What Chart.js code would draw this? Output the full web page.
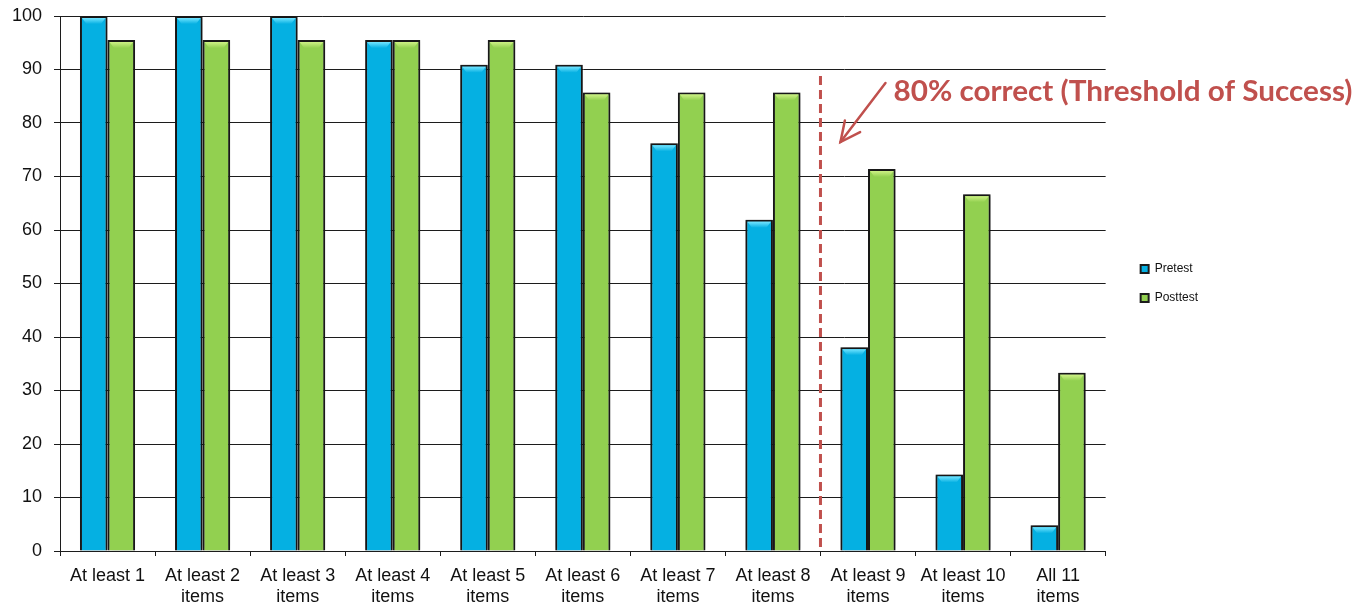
<!DOCTYPE html>
<html>
<head>
<meta charset="utf-8">
<title>Pretest vs Posttest</title>
<script src="https://cdn.jsdelivr.net/npm/chart.js@4.4.1/dist/chart.umd.min.js"></script>
<style>
  html, body { margin: 0; padding: 0; background: #fff; }
  #wrap { width: 1366px; height: 607px; position: relative; }
</style>
</head>
<body>
<div id="wrap"><canvas id="c" width="1366" height="607"></canvas></div>
<script>
// Share of students answering at least N of 11 items correctly (%)
const categories = [
  ['At least 1'],
  ['At least 2', 'items'],
  ['At least 3', 'items'],
  ['At least 4', 'items'],
  ['At least 5', 'items'],
  ['At least 6', 'items'],
  ['At least 7', 'items'],
  ['At least 8', 'items'],
  ['At least 9', 'items'],
  ['At least 10', 'items'],
  ['All 11', 'items']
];
const pretest  = [100, 100, 100, 95.5, 90.9, 90.9, 76.2, 61.9, 38.1, 14.3, 4.8];
const posttest = [95.5, 95.5, 95.5, 95.5, 95.5, 85.7, 85.7, 85.7, 71.4, 66.7, 33.3];
const yTicks = [0, 10, 20, 30, 40, 50, 60, 70, 80, 90, 100];

const thresholdLabel = '80% correct (Threshold of Success)';
const thresholdAfterIndex = 7; // dashed divider sits between "At least 8" and "At least 9"

const AXIS_FONT = "'Liberation Sans', Arial, sans-serif";
const RED = '#C0504D';
const INK = '#1c1c1c';

const PRE_FILL = '#05B0E2', PRE_LIGHT = '#72E4FF';
const POST_FILL = '#92D050', POST_LIGHT = '#CDF184';

// soft drop shadow around the bars
const barShadow = {
  id: 'barShadow',
  beforeDatasetsDraw(chart) {
    const ctx = chart.ctx;
    ctx.save();
    ctx.shadowColor = 'rgba(0,0,0,0.5)';
    ctx.shadowBlur = 5;
    ctx.shadowOffsetX = 0;
    ctx.shadowOffsetY = 0;
  },
  afterDatasetsDraw(chart) {
    const ctx = chart.ctx;
    ctx.restore();
    // bevelled highlight along the top of every bar
    chart.data.datasets.forEach((ds, di) => {
      const meta = chart.getDatasetMeta(di);
      const light = di === 0 ? PRE_LIGHT : POST_LIGHT;
      const base = di === 0 ? PRE_FILL : POST_FILL;
      meta.data.forEach(bar => {
        const p = bar.getProps(['x', 'y', 'width', 'base'], true);
        const l = p.x - p.width / 2, r = p.x + p.width / 2, t = p.y;
        if (p.base - t < 10) return;
        const g = ctx.createLinearGradient(0, t + 2, 0, t + 8);
        g.addColorStop(0, light);
        g.addColorStop(1, base);
        ctx.save();
        ctx.fillStyle = g;
        ctx.beginPath();
        ctx.moveTo(l + 2, t + 2);
        ctx.lineTo(r - 2, t + 2);
        ctx.lineTo(r - 6.5, t + 8);
        ctx.lineTo(l + 6.5, t + 8);
        ctx.closePath();
        ctx.fill();
        ctx.restore();
      });
    });
  }
};

// threshold divider, arrow and caption
const threshold = {
  id: 'threshold',
  afterDraw(chart) {
    const ctx = chart.ctx;
    const xs = chart.scales.x, ys = chart.scales.y;
    const xLine = (xs.getPixelForValue(thresholdAfterIndex) + xs.getPixelForValue(thresholdAfterIndex + 1)) / 2;
    ctx.save();
    ctx.strokeStyle = RED;
    ctx.lineWidth = 3;
    ctx.setLineDash([9, 5]);
    ctx.beginPath();
    ctx.moveTo(xLine, ys.getPixelForValue(88.8));
    ctx.lineTo(xLine, ys.getPixelForValue(0));
    ctx.stroke();
    ctx.setLineDash([]);

    // arrow pointing at the divider
    const ax0 = xLine + 65, ay0 = 83, ax1 = xLine + 20, ay1 = 142;
    ctx.lineWidth = 2.5;
    ctx.lineCap = 'round';
    ctx.beginPath();
    ctx.moveTo(ax0, ay0);
    ctx.lineTo(ax1, ay1);
    ctx.stroke();
    const ang = Math.atan2(ay1 - ay0, ax1 - ax0);
    const hl = 22, spread = 0.45;
    ctx.beginPath();
    ctx.moveTo(ax1 - hl * Math.cos(ang - spread), ay1 - hl * Math.sin(ang - spread));
    ctx.lineTo(ax1, ay1);
    ctx.lineTo(ax1 - hl * Math.cos(ang + spread), ay1 - hl * Math.sin(ang + spread));
    ctx.stroke();

    // caption, narrowed to a Calibri-like width
    const tx = xLine + 73, ty = 101, targetW = 459;
    ctx.font = "bold 29px Lato, 'Open Sans', sans-serif";
    ctx.fillStyle = RED;
    ctx.textBaseline = 'alphabetic';
    const w = ctx.measureText(thresholdLabel).width;
    ctx.translate(tx, ty);
    ctx.scale(targetW / w, 1);
    ctx.fillText(thresholdLabel, 0, 0);
    ctx.restore();
  }
};

new Chart(document.getElementById('c'), {
  type: 'bar',
  data: {
    labels: categories,
    datasets: [
      {
        label: 'Pretest',
        data: pretest,
        backgroundColor: PRE_FILL,
        borderColor: INK,
        borderWidth: 2,
        categoryPercentage: 0.58,
        barPercentage: 1.0
      },
      {
        label: 'Posttest',
        data: posttest,
        backgroundColor: POST_FILL,
        borderColor: INK,
        borderWidth: 2,
        categoryPercentage: 0.58,
        barPercentage: 1.0
      }
    ]
  },
  options: {
    responsive: false,
    animation: false,
    devicePixelRatio: 1,
    layout: { padding: { top: 16, left: 0, right: 158, bottom: 0 } },
    plugins: {
      legend: {
        position: 'right',
        fullSize: false,
        align: 'center',
        labels: {
          boxWidth: 8,
          boxHeight: 8,
          padding: 17,
          color: '#111',
          font: { family: AXIS_FONT, size: 12 }
        }
      },
      tooltip: { enabled: false }
    },
    scales: {
      x: {
        grid: {
          offset: true,
          drawOnChartArea: false,
          drawTicks: true,
          tickLength: 5,
          color: INK
        },
        border: { display: true, color: INK, width: 1 },
        ticks: {
          color: '#111',
          font: { family: AXIS_FONT, size: 18, lineHeight: 1.2 },
          padding: 9,
          maxRotation: 0,
          autoSkip: false
        },
        afterFit(s) { s.height = 56; }
      },
      y: {
        min: 0,
        max: 100,
        afterBuildTicks(s) { s.ticks = yTicks.map(v => ({ value: v })); },
        grid: { color: INK, tickLength: 6, lineWidth: 1 },
        border: { display: true, color: INK, width: 1 },
        ticks: {
          color: '#111',
          font: { family: AXIS_FONT, size: 18 },
          padding: 12
        },
        afterFit(s) { s.width = 60; s.paddingTop = 0; s.paddingBottom = 0; }
      },
      gap: {
        position: 'right',
        display: true,
        grid: { display: false, drawTicks: false },
        border: { display: false },
        ticks: { display: false },
        afterFit(s) { s.width = 18; s.paddingTop = 0; s.paddingBottom = 0; }
      }
    }
  },
  plugins: [barShadow, threshold]
});
</script>
</body>
</html>
